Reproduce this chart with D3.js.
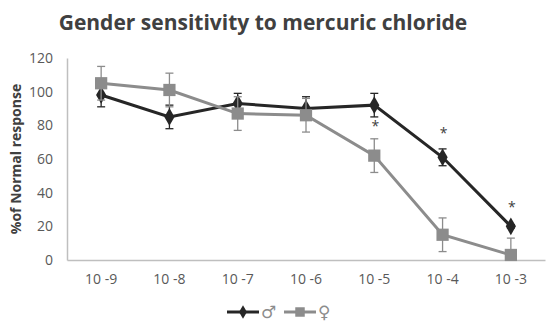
<!DOCTYPE html>
<html>
<head>
<meta charset="utf-8">
<script src="https://cdn.jsdelivr.net/npm/d3@7"></script>
<style>
	body { margin: 0; background: #fff; }
	text { font-family: "Open Sans", "Liberation Sans", sans-serif; }
</style>
</head>
<body>
<div id="chart"></div>
<script>
// Data
const concentrations = ["10 -9", "10 -8", "10 -7", "10 -6", "10 -5", "10 -4", "10 -3"];
const maleValues   = [98, 85, 93, 90, 92, 61, 20];
const maleErrors   = [7, 7, 6, 7, 7, 5, 1];
const femaleValues = [105, 101, 87, 86, 62, 15, 3];
const femaleErrors = [10, 10, 10, 10, 10, 10, 10];
const significant  = ["10 -5", "10 -4", "10 -3"];
const yTicks = [0, 20, 40, 60, 80, 100, 120];

const width = 550, height = 330;
const margin = {top: 58, bottom: 70, left: 67, right: 5};

const svg = d3.select("#chart").append("svg")
	.attr("width", width).attr("height", height);

const x = d3.scaleBand(concentrations, [margin.left, width - margin.right]);
const y = d3.scaleLinear([0, 120], [height - margin.bottom, margin.top]);
const cx = d => x(d) + x.bandwidth() / 2;

// Title
svg.append("text")
	.attr("x", 263).attr("y", 30)
	.attr("text-anchor", "middle")
	.style("font-size", "21px").style("font-weight", "bold")
	.attr("fill", "#404040")
	.text("Gender sensitivity to mercuric chloride");

// Axes
const axisY = svg.append("g")
	.attr("transform", `translate(${margin.left},0)`)
	.call(d3.axisLeft(y).tickValues(yTicks).tickSize(0).tickPadding(14));
const axisX = svg.append("g")
	.attr("transform", `translate(0,${height - margin.bottom})`)
	.call(d3.axisBottom(x).tickSize(0).tickPadding(14));
[axisY, axisX].forEach(a => {
	a.select(".domain").attr("stroke", "#bfbfbf").attr("stroke-width", 1.5);
	a.selectAll("text").attr("fill", "#595959").style("font-size", "14px")
		.style("font-family", "'Open Sans', sans-serif");
});

svg.append("text")
	.attr("transform", `translate(21, ${(margin.top + height - margin.bottom) / 2}) rotate(-90)`)
	.attr("text-anchor", "middle")
	.style("font-size", "14px").style("font-weight", "bold")
	.attr("fill", "#404040")
	.text("%of Normal response");

const series = [
	{name: "♂", values: maleValues, errors: maleErrors, color: "#262626", symbol: d3.symbolDiamond, size: 90},
	{name: "♀", values: femaleValues, errors: femaleErrors, color: "#8c8c8c", symbol: d3.symbolSquare, size: 150}
];

const line = d3.line().x(d => cx(d.c)).y(d => y(d.v));

series.forEach(s => {
	const pts = concentrations.map((c, i) => ({c, v: s.values[i], e: s.errors[i]}));
	const g = svg.append("g");

	// error bars
	const eb = g.selectAll("g.err").data(pts).join("g").attr("class", "err")
		.attr("stroke", s.color).attr("stroke-width", 1.3);
	eb.append("line")
		.attr("x1", d => cx(d.c)).attr("x2", d => cx(d.c))
		.attr("y1", d => y(Math.min(120, d.v + d.e))).attr("y2", d => y(Math.max(0, d.v - d.e)));
	eb.append("line")
		.attr("x1", d => cx(d.c) - 4).attr("x2", d => cx(d.c) + 4)
		.attr("y1", d => y(d.v + d.e)).attr("y2", d => y(d.v + d.e));
	eb.filter(d => d.v - d.e > 0).append("line")
		.attr("x1", d => cx(d.c) - 4).attr("x2", d => cx(d.c) + 4)
		.attr("y1", d => y(d.v - d.e)).attr("y2", d => y(d.v - d.e));

	g.append("path").datum(pts)
		.attr("d", line).attr("fill", "none")
		.attr("stroke", s.color).attr("stroke-width", 3);

	g.selectAll("path.pt").data(pts).join("path").attr("class", "pt")
		.attr("transform", d => `translate(${cx(d.c)},${y(d.v)})`)
		.attr("d", d3.symbol(s.symbol, s.size))
		.attr("fill", s.color);
});

// significance markers
const starY = {"10 -5": 80, "10 -4": 76, "10 -3": 32};
svg.selectAll("text.star").data(significant).join("text").attr("class", "star")
	.attr("x", d => cx(d) + 1).attr("y", d => y(starY[d]) + 6)
	.attr("text-anchor", "middle")
	.style("font-size", "14px").attr("fill", "#404040")
	.text("*");

// Legend
const legend = svg.append("g").attr("transform", "translate(227, 312)");
series.forEach((s, i) => {
	const lg = legend.append("g").attr("transform", `translate(${i * 57}, 0)`);
	lg.append("line").attr("x1", 0).attr("x2", 32).attr("stroke", s.color).attr("stroke-width", 3);
	lg.append("path").attr("transform", "translate(16,0)")
		.attr("d", d3.symbol(s.symbol, s.size * 0.6)).attr("fill", s.color);
	lg.append("text").attr("x", 34).attr("y", 6)
		.style("font-size", "17px").attr("fill", "#8c8c8c")
		.style("font-family", "'DejaVu Sans', sans-serif")
		.text(s.name);
});
</script>
</body>
</html>
